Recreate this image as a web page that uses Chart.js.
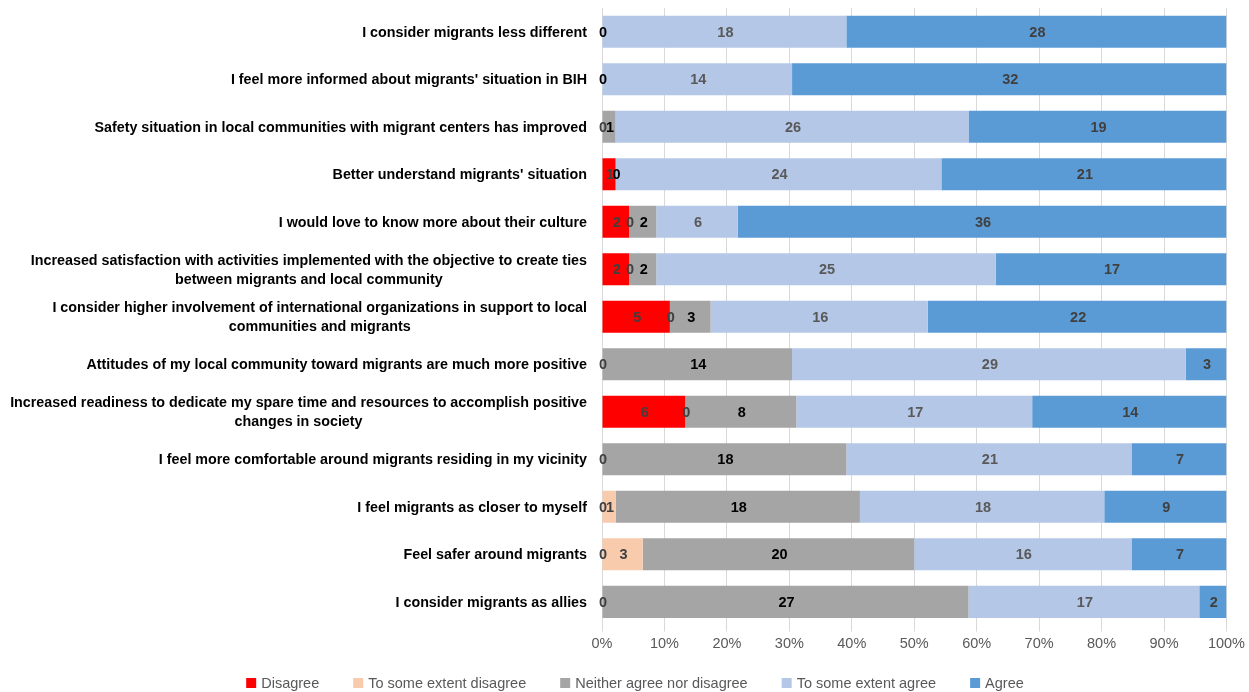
<!DOCTYPE html>
<html>
<head>
<meta charset="utf-8">
<script src="https://cdn.jsdelivr.net/npm/chart.js@4/dist/chart.umd.min.js"></script>
<style>
html,body{margin:0;padding:0;background:#fff;}
#wrap{width:1249px;height:692px;position:relative;}
</style>
</head>
<body>
<div id="wrap"><canvas id="c" width="1249" height="692"></canvas></div>
<script>
const categories = [
  ["I consider migrants less different"],
  ["I feel more informed about migrants' situation in BIH"],
  ["Safety situation in local communities with migrant centers has improved"],
  ["Better understand migrants' situation"],
  ["I would love to know more about their culture"],
  ["Increased satisfaction with activities implemented with the objective to create ties", "between migrants and local community"],
  ["I consider higher involvement of international organizations in support to local", "communities and migrants"],
  ["Attitudes of my local community toward migrants are much more positive"],
  ["Increased readiness to dedicate my spare time and resources to accomplish positive", "changes in society"],
  ["I feel more comfortable around migrants residing in my vicinity"],
  ["I feel migrants as closer to myself"],
  ["Feel safer around migrants"],
  ["I consider migrants as allies"]
];
const seriesNames = ["Disagree", "To some extent disagree", "Neither agree nor disagree", "To some extent agree", "Agree"];
const disagree        = [null, null, 0,    1,    2, 2, 5, 0,    6, 0,    0, 0, 0];
const someDisagree    = [null, null, null, null, 0, 0, 0, null, 0, null, 1, 3, null];
const neither         = [0,    0,    1,    0,    2, 2, 3, 14,   8, 18,  18, 20, 27];
const someAgree       = [18,   14,   26,   24,   6, 25, 16, 29, 17, 21,  18, 16, 17];
const agree           = [28,   32,   19,   21,  36, 17, 22, 3,  14, 7,    9, 7,  2];
const xTicks = ["0%","10%","20%","30%","40%","50%","60%","70%","80%","90%","100%"];

const colors = ["#ff0000", "#f8cbad", "#a5a5a5", "#b4c7e7", "#5b9bd5"];
const labelColors = ["#404040", "#404040", "#000000", "#595959", "#404040"];
const raw = [disagree, someDisagree, neither, someAgree, agree];
const totals = categories.map((_, i) => raw.reduce((s, a) => s + (a[i] || 0), 0));
const FONT = "'Liberation Sans', Arial, sans-serif";

const datasets = raw.map((arr, k) => ({
  label: seriesNames[k],
  data: arr.map((v, i) => v === null ? null : v / totals[i] * 100),
  rawValues: arr,
  backgroundColor: colors[k],
  borderWidth: 0,
  barPercentage: 0.675,
  categoryPercentage: 1.0
}));

const labelPlugin = {
  id: 'barLabels',
  afterDatasetsDraw(chart) {
    const ctx = chart.ctx;
    ctx.save();
    ctx.font = "bold 14.5px " + FONT;
    ctx.textAlign = 'center';
    ctx.textBaseline = 'middle';
    chart.data.datasets.forEach((ds, k) => {
      const meta = chart.getDatasetMeta(k);
      meta.data.forEach((el, i) => {
        const v = ds.rawValues[i];
        if (v === null || v === undefined) return;
        const p = el.getCenterPoint();
        ctx.fillStyle = labelColors[k];
        ctx.fillText(String(v), p.x + 1, p.y + 1);
      });
    });
    ctx.restore();
  }
};

const catLabelPlugin = {
  id: 'catLabels',
  afterDraw(chart) {
    const ctx = chart.ctx;
    const ys = chart.scales.y;
    const right = chart.chartArea.left - 15;
    ctx.save();
    ctx.font = "bold 14.3px " + FONT;
    ctx.fillStyle = '#000';
    ctx.textBaseline = 'middle';
    ctx.textAlign = 'center';
    const lh = 19;
    categories.forEach((lines, i) => {
      const y = ys.getPixelForValue(i);
      const maxW = Math.max(...lines.map(l => ctx.measureText(l).width));
      const center = right - maxW / 2;
      lines.forEach((l, j) => {
        ctx.fillText(l, center, y + (j - (lines.length - 1) / 2) * lh + 1);
      });
    });
    ctx.restore();
  }
};

const legendPlugin = {
  id: 'customLegend',
  afterDraw(chart) {
    const ctx = chart.ctx;
    ctx.save();
    ctx.font = "14.5px " + FONT;
    ctx.textBaseline = 'middle';
    ctx.textAlign = 'left';
    const box = 10, gapBT = 5, gapItems = 34;
    const widths = seriesNames.map(n => box + gapBT + ctx.measureText(n).width);
    const total = widths.reduce((a, b) => a + b, 0) + gapItems * (widths.length - 1);
    let x = 635 - total / 2;
    const y = 683;
    seriesNames.forEach((n, k) => {
      ctx.fillStyle = colors[k];
      ctx.fillRect(x, y - box / 2, box, box);
      ctx.fillStyle = '#595959';
      ctx.fillText(n, x + box + gapBT, y + 1);
      x += widths[k] + gapItems;
    });
    ctx.restore();
  }
};

new Chart(document.getElementById('c'), {
  type: 'bar',
  data: { labels: categories.map(c => c.join(' ')), datasets },
  options: {
    indexAxis: 'y',
    responsive: false,
    animation: false,
    layout: { padding: { top: 8, right: 20, left: 0, bottom: 35 } },
    scales: {
      x: {
        stacked: true,
        min: 0, max: 100,
        ticks: {
          stepSize: 10,
          callback: (v, i) => xTicks[i],
          color: '#595959',
          font: { family: FONT, size: 14.5 },
          padding: 4
        },
        grid: { color: '#d9d9d9', lineWidth: 1, drawTicks: true, tickLength: 6, tickColor: '#d9d9d9' },
        border: { display: false }
      },
      y: {
        stacked: true,
        ticks: { display: false },
        grid: { display: false },
        border: { display: true, color: '#d9d9d9', width: 1 },
        afterFit(scale) { scale.width = 602; }
      }
    },
    plugins: {
      legend: { display: false },
      tooltip: { enabled: false }
    }
  },
  plugins: [labelPlugin, catLabelPlugin, legendPlugin]
});
</script>
</body>
</html>
